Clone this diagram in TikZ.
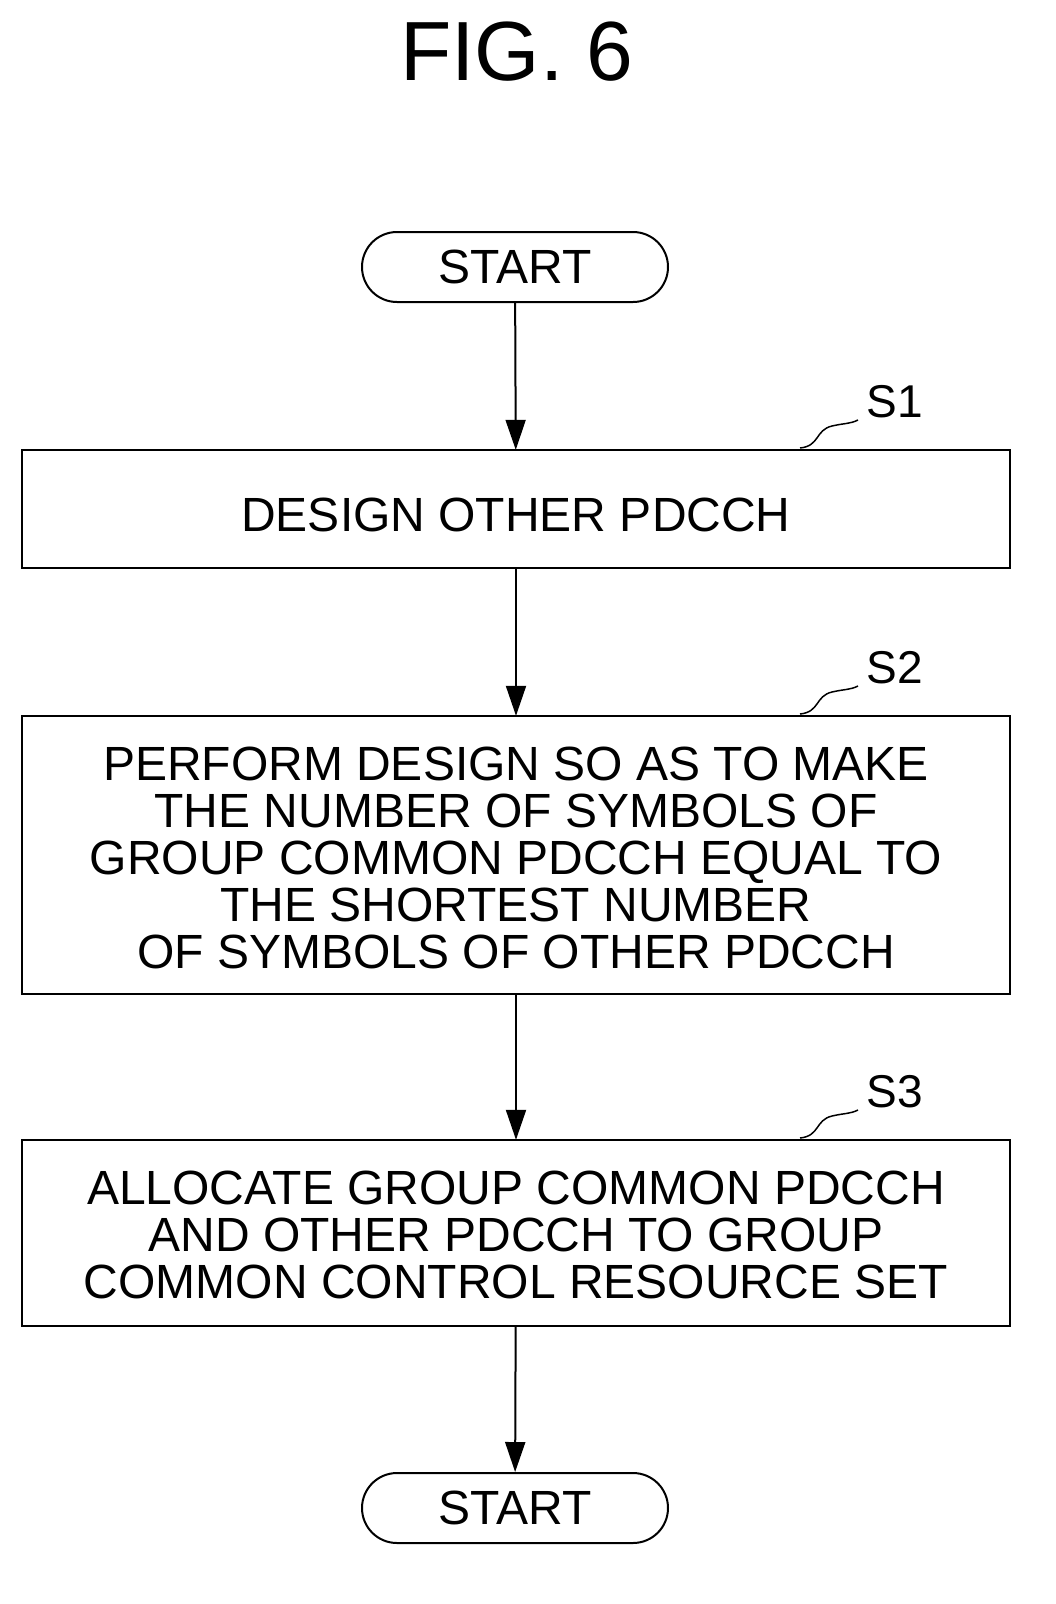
\documentclass[tikz,border=0pt]{standalone}
\usepackage{fontspec}
\setmainfont{Liberation Sans}
\usetikzlibrary{arrows.meta,shapes.misc}
\begin{document}
\begin{tikzpicture}[x=1pt,y=-1pt,
  txt/.style={font=\fontsize{48}{47}\selectfont, align=center, inner sep=0pt},
  boxst/.style={draw, line width=2pt},
  term/.style={draw, line width=2pt, rounded rectangle, minimum width=306pt, minimum height=70pt, font=\fontsize{48}{47}\selectfont, inner sep=0pt},
  arr/.style={line width=2pt, -{Triangle[length=30pt,width=20pt]}},
  lead/.style={line width=1.5pt},
  lbl/.style={font=\fontsize{46}{46}\selectfont, inner sep=0pt}]
\useasboundingbox (0,0) rectangle (1056,1604);
\node[font=\fontsize{84}{84}\selectfont, inner sep=0pt] (title) at (517,52) {FIG. 6};
\node[term] (start) at (515,267) {START};
\draw[boxst] (22,450) rectangle (1010,568);
\node[txt, minimum width=988pt, minimum height=118pt] (s1) at (516,509) {};
\node[txt] at (516,515) {DESIGN OTHER PDCCH};
\draw[boxst] (22,716) rectangle (1010,994);
\node[minimum width=988pt, minimum height=278pt, inner sep=0pt] (s2) at (516,855) {};
\node[txt] at (516,858) {PERFORM DESIGN SO AS TO MAKE\\THE NUMBER OF SYMBOLS OF\\GROUP COMMON PDCCH EQUAL TO\\THE SHORTEST NUMBER\\OF SYMBOLS OF OTHER PDCCH};
\draw[boxst] (22,1140) rectangle (1010,1326);
\node[minimum width=988pt, minimum height=186pt, inner sep=0pt] (s3) at (516,1233) {};
\node[txt] at (516,1235) {ALLOCATE GROUP COMMON PDCCH\\AND OTHER PDCCH TO GROUP\\COMMON CONTROL RESOURCE SET};
\node[term] (end) at (515,1508) {START};
\draw[arr] (start) -- (s1);
\draw[arr] (s1) -- (s2);
\draw[arr] (s2) -- (s3);
\draw[arr] (s3) -- (end);
\foreach \n/\y in {1/450,2/716,3/1140}{
  \node[lbl] (l\n) at (895,\y-48) {S\n};
  \coordinate (c\n) at (800,\y-2);
  \coordinate (d\n) at (858,\y-30);
  \draw[lead] (c\n) .. controls (820,\y-4) and (815,\y-20) .. (832,\y-24) .. controls (845,\y-27) and (850,\y-26) .. (d\n);
}
\end{tikzpicture}
\end{document}
